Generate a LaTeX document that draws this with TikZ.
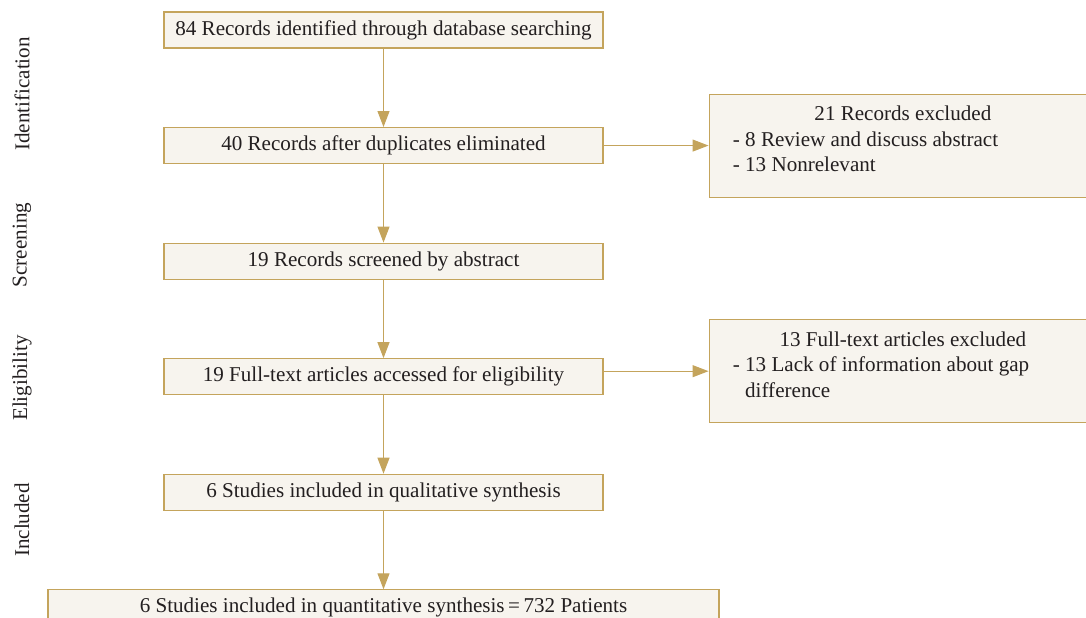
\documentclass[tikz,border=0pt]{standalone}
\definecolor{prismaGold}{RGB}{196,164,92}
\definecolor{prismaFill}{RGB}{247,244,238}
\definecolor{prismaText}{RGB}{35,31,32}
\usepackage{fontspec}
\setmainfont{Liberation Serif}
\usepackage{tikz}
\usetikzlibrary{arrows.meta,positioning,calc}

\begin{document}
\begin{tikzpicture}[
  font=\fontsize{12}{14.5}\selectfont, text=prismaText,
  node distance=1.57cm,
  box/.style={draw=prismaGold, line width=0.6pt, fill=prismaFill,
              minimum width=8.78cm, minimum height=0.72cm, align=center},
  exbox/.style={draw=prismaGold, line width=0.6pt, fill=prismaFill,
                minimum width=7.76cm, minimum height=2.06cm},
  extext/.style={inner sep=0pt, align=left, anchor=north west},
  phase/.style={rotate=90, inner sep=0pt},
  flow/.style={-{Triangle[length=0.32cm, width=0.24cm]}, line width=0.6pt, prismaGold}
]
  \useasboundingbox (0,0) rectangle (21.72,-12.34);
  \clip (0,0) rectangle (21.72,-12.34);

  % main column
  \node[box] (ident) at (7.67,-0.6) {84 Records identified through database searching};
  \node[box, below=of ident]  (dup)   {40 Records after duplicates eliminated};
  \node[box, below=of dup]    (screen) {19 Records screened by abstract};
  \node[box, below=of screen] (elig)  {19 Full-text articles accessed for eligibility};
  \node[box, below=of elig]   (qual)  {6 Studies included in qualitative synthesis};
  \node[box, below=of qual, minimum width=13.42cm] (quant)
    {6 Studies included in quantitative synthesis\,=\,732 Patients};

  % exclusions
  \node[exbox, right=2.1cm of dup] (excl1) {};
  \node[extext, below right=0.24cm and 0.48cm of excl1.north west] (excl1txt)
    {\makebox[6.8cm]{21 Records excluded}\\
     - 8 Review and discuss abstract\\
     - 13 Nonrelevant};
  \node[exbox, right=2.1cm of elig, yshift=0.11cm] (excl2) {};
  \node[extext, below right=0.24cm and 0.48cm of excl2.north west] (excl2txt)
    {\makebox[6.8cm]{13 Full-text articles excluded}\\
     - 13 Lack of information about gap\\
     \hphantom{- }difference};

  % phases
  \node[phase] (pIdent)  at (0.44,-1.88) {Identification};
  \node[phase] (pScreen) at (0.44,-4.90) {Screening};
  \node[phase] (pElig)   at (0.44,-7.56) {Eligibility};
  \node[phase] (pIncl)   at (0.44,-10.40) {Included};

  \draw[flow] (ident) -- (dup);
  \draw[flow] (dup) -- (screen);
  \draw[flow] (screen) -- (elig);
  \draw[flow] (elig) -- (qual);
  \draw[flow] (qual) -- (quant);
  \draw[flow] (dup) -- (excl1);
  \draw[flow] (elig.east |- excl2.west) -- (excl2.west);
\end{tikzpicture}
\end{document}
